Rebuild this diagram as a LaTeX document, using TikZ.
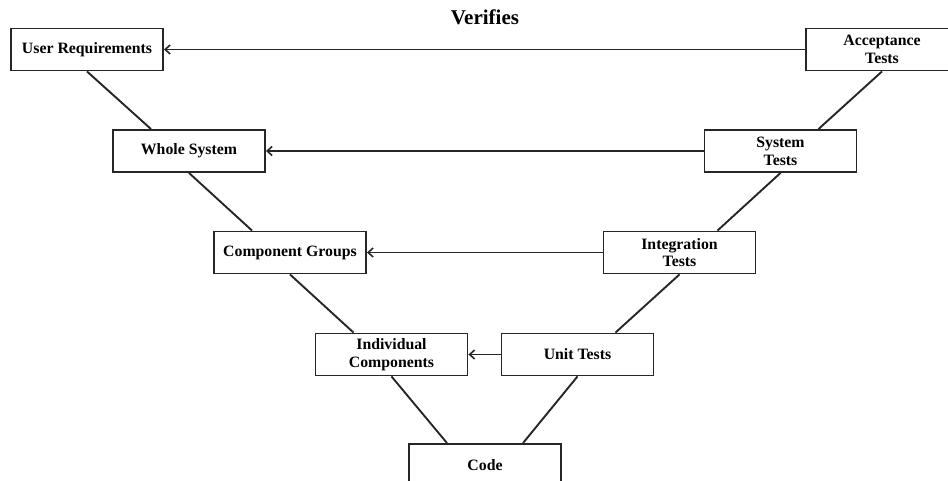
\documentclass[tikz,border=0pt]{standalone}
\usepackage{fontspec}
\setmainfont{Liberation Serif}
\usetikzlibrary{arrows.meta}
\begin{document}
\begin{tikzpicture}[x=1pt,y=-1pt,
  stage/.style={draw=black!85, line width=1.9pt, minimum width=152pt, minimum height=42pt,
    inner sep=0pt, align=center, font=\bfseries\fontsize{15.8}{17.8}\selectfont, fill=white},
  vline/.style={draw=black!85, line width=1.9pt},
  verify/.style={draw=black!85, line width=1.9pt, -{Straight Barb[length=5pt,width=9pt,line width=1.6pt]}}]
\useasboundingbox (0,0) rectangle (948,481);
\begin{scope}
\clip (0,0) rectangle (948,481);
% left branch: specification levels
\node[stage] (ur) at (87,49.5) {User Requirements};
\node[stage] (ws) at (189,151) {Whole System};
\node[stage] (cg) at (290,252.5) {Component Groups};
\node[stage] (ic) at (391.5,354.5) {Individual\\Components};
% bottom of the V
\node[stage] (code) at (485,465) {Code};
% right branch: test levels
\node[stage] (ut) at (577.5,354.5) {Unit Tests};
\node[stage] (it) at (679.5,252.5) {Integration\\Tests};
\node[stage] (st) at (780.5,151) {System\\Tests};
\node[stage] (at) at (882,49.5) {Acceptance\\Tests};

% diagonal links forming the V
\draw[vline] (ur.south) -- ([xshift=-38pt]ws.north);
\draw[vline] (ws.south) -- ([xshift=-38pt]cg.north);
\draw[vline] (cg.south) -- ([xshift=-38pt]ic.north);
\draw[vline] (ic.south) -- ([xshift=-38pt]code.north);
\draw[vline] (ut.south) -- ([xshift=38pt]code.north);
\draw[vline] (it.south) -- ([xshift=38pt]ut.north);
\draw[vline] (st.south) -- ([xshift=38pt]it.north);
\draw[vline] (at.south) -- ([xshift=38pt]st.north);

% verification arrows
\draw[verify] (at.west) -- (ur.east);
\draw[verify] (st.west) -- (ws.east);
\draw[verify] (it.west) -- (cg.east);
\draw[verify] (ut.west) -- (ic.east);
\end{scope}

\node[font=\bfseries\fontsize{21}{24}\selectfont] (title) at (485,17) {Verifies};
\end{tikzpicture}
\end{document}
